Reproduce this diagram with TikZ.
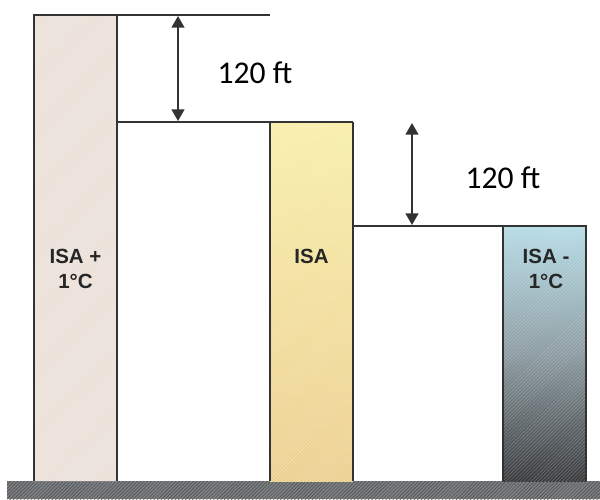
\documentclass[tikz,border=0pt]{standalone}
\usepackage{fontspec}
\setmainfont{Carlito}
\newfontfamily\labelfont{Liberation Sans}
\usetikzlibrary{arrows.meta,patterns}
\definecolor{warmbar}{HTML}{EBE1D9}
\definecolor{isatop}{HTML}{F7EEA9}
\definecolor{isabot}{HTML}{EDCF8E}
\definecolor{coldtop}{HTML}{B6DCE6}
\definecolor{coldmid}{HTML}{8C9CA2}
\definecolor{coldbot}{HTML}{3A3B3D}
\definecolor{ground}{HTML}{7C7F82}
\definecolor{edge}{HTML}{333333}

\begin{document}
\begin{tikzpicture}[x=0.03cm,y=-0.03cm,
  edgeline/.style={draw=edge,line width=1.4pt},
  dimarrow/.style={draw=edge,line width=1.5pt,{Triangle[width=11pt,length=10pt]}-{Triangle[width=11pt,length=10pt]}},
  gaplabel/.style={font=\fontsize{27}{32}\selectfont},
  barlabel/.style={font=\labelfont\bfseries\fontsize{17.5}{21.5}\selectfont,align=center,text=black!85}]
\useasboundingbox (0,0) rectangle (600,499);
% ground
\fill[ground] (7,481) rectangle (600,499);
\fill[pattern=north east lines,pattern color=black!70] (7,481) rectangle (600,499);
% the three columns
\fill[warmbar] (34,15) rectangle (117,481);
\shade[top color=isatop,bottom color=isabot] (270,122) rectangle (353,481);
\shade[top color=coldtop,bottom color=coldbot,middle color=coldmid] (503,226) rectangle (586,481);
\fill[pattern=north east lines,pattern color=white,opacity=0.35] (34,15) rectangle (117,481);
\fill[pattern=north east lines,pattern color=white,opacity=0.35] (270,122) rectangle (353,481);
\fill[pattern=north east lines,pattern color=white,opacity=0.25] (503,226) rectangle (586,481);
\draw[edgeline] (34,481) -- (34,15) -- (270,15);
\draw[edgeline] (117,15) -- (117,481);
\draw[edgeline] (117,122) -- (353,122);
\draw[edgeline] (270,122) -- (270,481);
\draw[edgeline] (353,122) -- (353,481);
\draw[edgeline] (353,226) -- (586,226) -- (586,481);
\draw[edgeline] (503,226) -- (503,481);
% height differences
\coordinate (upper top) at (178,16);
\coordinate (upper bot) at (178,121);
\coordinate (lower top) at (412,123);
\coordinate (lower bot) at (412,225);
\draw[dimarrow] (upper top) -- (upper bot);
\draw[dimarrow] (lower top) -- (lower bot);
\node[gaplabel] (upper gap) at (255,73) {120 ft};
\node[gaplabel] (lower gap) at (503,178) {120 ft};
% column labels
\node[barlabel] (warm) at (75.5,269) {ISA +\\1°C};
\node[barlabel] (std) at (311.5,256) {ISA};
\node[barlabel] (cold) at (546,269) {ISA -\\1°C};
\end{tikzpicture}
\end{document}
